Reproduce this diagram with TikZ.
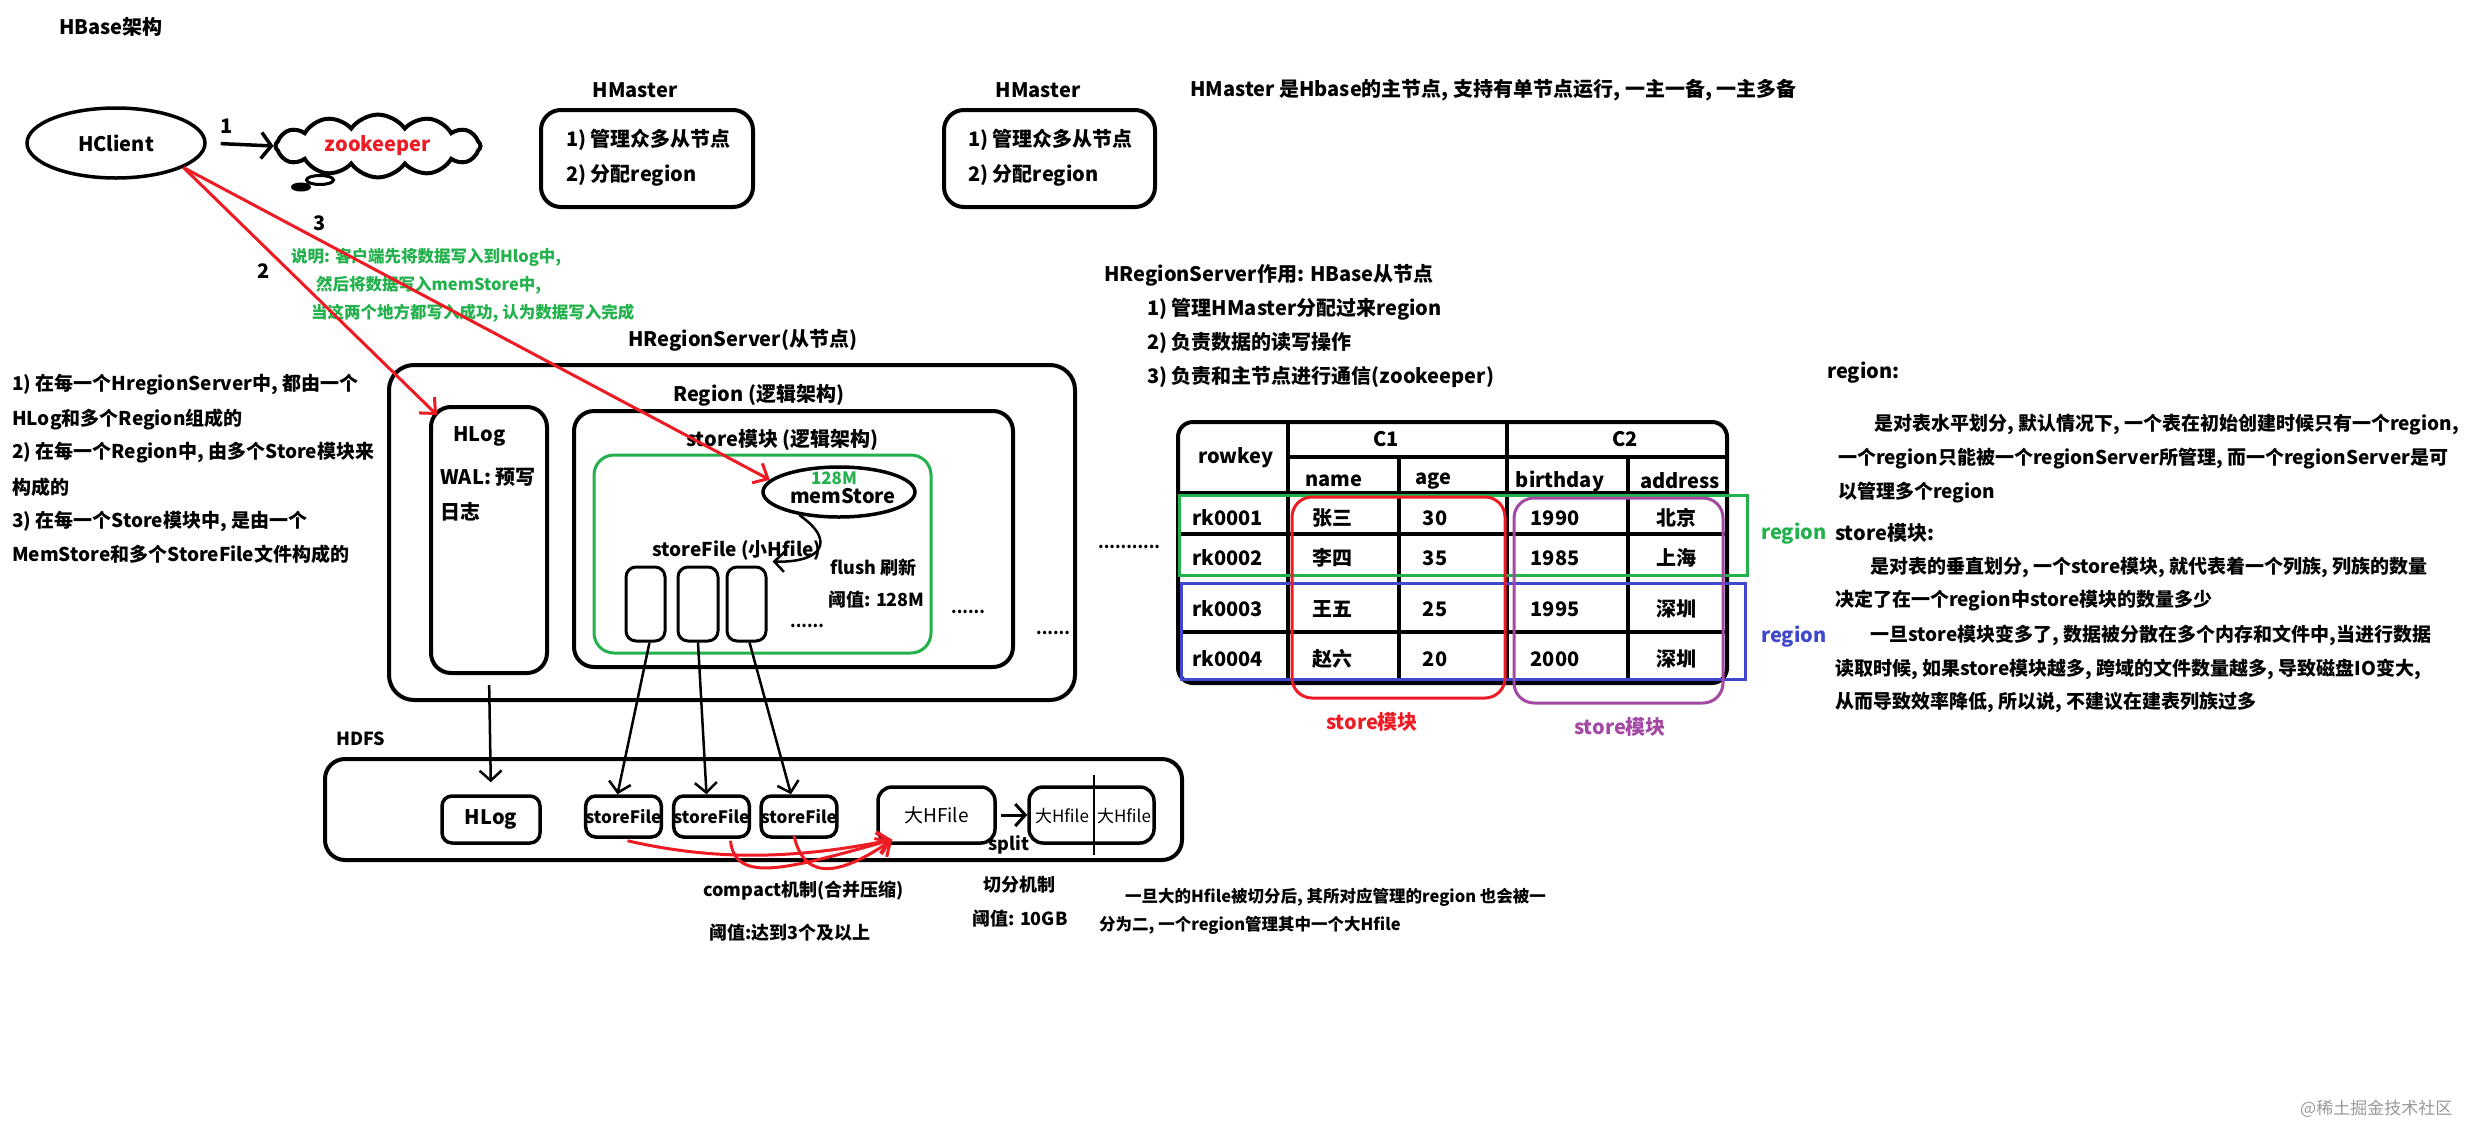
\documentclass[tikz,border=0pt]{standalone}
\usepackage{fontspec}
\setmainfont{Noto Sans CJK SC}
\usetikzlibrary{arrows.meta,shapes.geometric,shapes.symbols,calc}
\definecolor{pgreen}{RGB}{34,177,76}
\definecolor{pred}{RGB}{237,28,36}
\definecolor{pblue}{RGB}{63,72,204}
\definecolor{ppurple}{RGB}{163,73,164}
\newcommand\fsz[1]{\fontsize{#1}{#1}\selectfont}
\begin{document}
\begin{tikzpicture}[x=1pt,y=-1pt,
  every node/.style={font=\bfseries\fsz{20},inner sep=0pt},
  txt/.style={anchor=west},
  note/.style={anchor=west,text=pgreen,font=\bfseries\fsz{16.5}},
  box/.style={draw,line width=4pt,rounded corners=20pt},
  sbox/.style={draw,line width=3pt,rounded corners=10pt},
  arr/.style={line width=2.5pt,-{Straight Barb[length=10pt,width=22pt]}},
  redarr/.style={draw=pred,line width=3pt,-{Straight Barb[length=12pt,width=22pt]}},
  dots/.style={font=\bfseries\fsz{16},anchor=west},
  tline/.style={line width=3.5pt},
  cell/.style={font=\bfseries\fsz{20}},
  rtxt/.style={anchor=west,font=\bfseries\fsz{19}}
]
\useasboundingbox (0,0) rectangle (2465,1125);

% title
\node[txt] (title) at (59,27) {HBase架构};

% client and zookeeper
\node[ellipse,draw,line width=3.5pt,minimum width=178pt,minimum height=70pt] (hclient) at (116,143) {HClient};
\node[cloud,draw,line width=4pt,cloud puffs=12,cloud puff arc=110,aspect=3.4,minimum width=205pt,minimum height=62pt] (zk) at (378,146) {\textcolor{pred}{zookeeper}};
\node[ellipse,draw,line width=3pt,minimum width=27pt,minimum height=9pt] (bub1) at (320,180) {};
\node[ellipse,draw,fill,line width=2pt,minimum width=18pt,minimum height=7pt] (bub2) at (301,187) {};
\draw[line width=3.5pt,-{Straight Barb[length=10pt,width=26pt]},shorten <=14pt] (hclient.east) -- (zk.west);
\node (l1) at (227,126) {1};
\node (l2) at (264,271) {2};
\node (l3) at (320,223) {3};

% HMasters
\node (hm1t) at (635,90) {HMaster};
\node[box,minimum width=212pt,minimum height=97pt] (hm1) at (647,158.5) {};
\node[txt] (hm1a) at (566,140) {1) 管理众多从节点};
\node[txt] (hm1b) at (566,175) {2) 分配region};
\node (hm2t) at (1038,90) {HMaster};
\node[box,minimum width=211pt,minimum height=97pt] (hm2) at (1049.5,158.5) {};
\node[txt] (hm2a) at (968,140) {1) 管理众多从节点};
\node[txt] (hm2b) at (968,175) {2) 分配region};
\node[txt] (hmnote) at (1190,90) {HMaster 是Hbase的主节点, 支持有单节点运行, 一主一备, 一主多备};

% green note
\node[note] (n1) at (291,257) {说明: 客户端先将数据写入到Hlog中,};
\node[note] (n2) at (316,285) {然后将数据写入memStore中,};
\node[note] (n3) at (311,313) {当这两个地方都写入成功, 认为数据写入完成};

% left notes
\node[rtxt] (ln1) at (12,385) {1) 在每一个HregionServer中, 都由一个};
\node[rtxt] (ln2) at (12,419) {HLog和多个Region组成的};
\node[rtxt] (ln3) at (12,453) {2) 在每一个Region中, 由多个Store模块来};
\node[rtxt] (ln4) at (12,487) {构成的};
\node[rtxt] (ln5) at (12,521) {3) 在每一个Store模块中, 是由一个};
\node[rtxt] (ln6) at (12,554) {MemStore和多个StoreFile文件构成的};

% HRegionServer
\node[txt] (rst) at (628,340) {HRegionServer(从节点)};
\node[box,minimum width=686pt,minimum height=335pt,rounded corners=25pt] (rs) at (732,532.5) {};
\node[box,minimum width=116pt,minimum height=266pt] (hlog) at (489,540) {};
\node[txt] (hlogt) at (453,436) {HLog};
\node[txt] (wal) at (440,477) {WAL: 预写};
\node[txt] (wal2) at (440,512) {日志};
\node[txt] (regt) at (673,395) {Region (逻辑架构)};
\node[box,minimum width=439pt,minimum height=256pt] (region) at (793.5,539) {};
\node[txt] (stt) at (686,440) {store模块 (逻辑架构)};
\node[draw=pgreen,line width=3pt,rounded corners=20pt,minimum width=337pt,minimum height=198pt] (store) at (762.5,554) {};
\node[ellipse,draw,line width=3.5pt,minimum width=152pt,minimum height=50pt] (memstore) at (839,492) {};
\node[text=pgreen,font=\bfseries\fsz{17}] (m128) at (834,478) {128M};
\node (memt) at (843,496) {memStore};
\node[txt,font=\bfseries\fsz{19}] (sft) at (652,550) {storeFile (小Hfile)};
\node[sbox,minimum width=39pt,minimum height=74pt] (sfa) at (645.5,604) {};
\node[sbox,minimum width=40pt,minimum height=74pt] (sfb) at (698,604) {};
\node[sbox,minimum width=39pt,minimum height=74pt] (sfc) at (746.5,604) {};
\node[txt,font=\bfseries\fsz{18}] (flush) at (830,568) {flush 刷新};
\node[txt,font=\bfseries\fsz{18}] (fth) at (828,600) {阈值: 128M};
\node[dots] (d1) at (790,626) {......};
\node[dots] (d2) at (951,612) {......};
\node[dots] (d3) at (1036,633) {......};
\draw[line width=2.5pt,-{Straight Barb[length=10pt,width=20pt]}] (memstore.-150) .. controls (838,542) and (820,563) .. ($(sfc.north east)+(5,-4)$);

% red write arrows
\draw[redarr] (hclient.-20) -- ($(hlog.north west)+(8,10)$);
\draw[redarr] (hclient.-20) -- (memstore.170);

% HDFS
\node[txt,font=\bfseries\fsz{18}] (hdfst) at (336,739) {HDFS};
\node[box,minimum width=857pt,minimum height=101pt] (hdfs) at (753.5,809.5) {};
\node[sbox,line width=3.5pt,minimum width=98pt,minimum height=47pt] (hhlog) at (491,819.5) {HLog};
\node[sbox,line width=3.5pt,minimum width=73pt,minimum height=41pt,font=\bfseries\fsz{17}] (hsf1) at (623.5,816.5) {storeFile};
\node[sbox,line width=3.5pt,minimum width=73pt,minimum height=41pt,font=\bfseries\fsz{17}] (hsf2) at (711.5,816.5) {storeFile};
\node[sbox,line width=3.5pt,minimum width=74pt,minimum height=41pt,font=\bfseries\fsz{17}] (hsf3) at (799,816.5) {storeFile};
\node[sbox,line width=3.5pt,rounded corners=14pt,minimum width=117pt,minimum height=56pt,font=\mdseries\fsz{19}] (bigh) at (936.5,815) {大HFile};
\node[sbox,line width=3.5pt,rounded corners=14pt,minimum width=125pt,minimum height=56pt] (splitb) at (1091.5,815) {};
\node[font=\mdseries\fsz{17}] (sp1) at (1062,816) {大Hfile};
\node[font=\mdseries\fsz{17}] (sp2) at (1124,816) {大Hfile};
\coordinate (cutT) at (1094,775);
\coordinate (cutB) at (1094,855);
\draw[line width=2.5pt] (cutT) -- (cutB);
\draw[arr,line width=3pt,shorten <=4pt] (bigh.east) -- (splitb.west);
\node[font=\bfseries\fsz{18}] (splitl) at (1009,845) {split};

\draw[arr,shorten <=10pt,shorten >=12pt] (hlog.south) -- (hhlog.north);
\draw[arr] ($(sfa.south)+(4,0)$) -- ($(hsf1.north)+(-6,0)$);
\draw[arr] (sfb.south) -- ($(hsf2.north)+(-5,0)$);
\draw[arr] ($(sfc.south)+(3,0)$) -- ($(hsf3.north)+(-8,0)$);

% compact
\coordinate (cend) at ($(bigh.south west)+(16,-5)$);
\draw[redarr] ($(hsf1.south)+(4,2)$) .. controls (720,862) and (800,858) .. (cend);
\draw[redarr] ($(hsf2.south)+(19,2)$) .. controls (735,885) and (790,868) .. (cend);
\draw[redarr] ($(hsf3.south)+(-5,-3)$) .. controls (805,885) and (845,872) .. (cend);
\node[txt,font=\bfseries\fsz{18}] (cmp) at (703,891) {compact机制(合并压缩)};
\node[txt,font=\bfseries\fsz{18}] (cmp2) at (709,933) {阈值:达到3个及以上};
\node[txt,font=\bfseries\fsz{18}] (cut1) at (983,885) {切分机制};
\node[txt,font=\bfseries\fsz{18}] (cut2) at (972,919) {阈值: 10GB};
\node[txt,font=\bfseries\fsz{16.5}] (bn1) at (1125,897) {一旦大的Hfile被切分后, 其所对应管理的region 也会被一};
\node[txt,font=\bfseries\fsz{16.5}] (bn2) at (1099,925) {分为二, 一个region管理其中一个大Hfile};

% HRegionServer role
\node[txt] (rr0) at (1104,275) {HRegionServer作用: HBase从节点};
\node[txt] (rr1) at (1147,309) {1) 管理HMaster分配过来region};
\node[txt] (rr2) at (1147,343) {2) 负责数据的读写操作};
\node[txt] (rr3) at (1147,377) {3) 负责和主节点进行通信(zookeeper)};
\node[dots] (d4) at (1098,547) {...........};

% table
\node[draw,line width=4pt,rounded corners=15pt,minimum width=549pt,minimum height=261pt] (tbl) at (1452.5,552.5) {};
\draw[tline] (1288,422) -- (1288,683);
\draw[tline] (1507,422) -- (1507,683);
\draw[tline] (1399,457) -- (1399,683);
\draw[tline] (1628,457) -- (1628,683);
\draw[tline] (1288,457) -- (1727,457);
\draw[tline] (1178,493) -- (1727,493);
\draw[tline] (1178,534) -- (1727,534);
\draw[tline] (1178,632) -- (1727,632);
\node[cell] (h0) at (1236,458) {rowkey};
\node[cell] (h1) at (1386,439) {C1};
\node[cell] (h2) at (1625,439) {C2};
\node[cell] (h3) at (1334,481) {name};
\node[cell] (h4) at (1433,481) {age};
\node[cell] (h5) at (1560,481) {birthday};
\node[cell] (h6) at (1680,481) {address};
\node[cell,anchor=west] (r1a) at (1192,518) {rk0001};
\node[cell] (r1b) at (1332,518) {张三};
\node[cell] (r1c) at (1435,518) {30};
\node[cell] (r1d) at (1555,518) {1990};
\node[cell] (r1e) at (1676,518) {北京};
\node[cell,anchor=west] (r2a) at (1192,558) {rk0002};
\node[cell] (r2b) at (1332,558) {李四};
\node[cell] (r2c) at (1435,558) {35};
\node[cell] (r2d) at (1555,558) {1985};
\node[cell] (r2e) at (1676,558) {上海};
\node[cell,anchor=west] (r3a) at (1192,609) {rk0003};
\node[cell] (r3b) at (1332,609) {王五};
\node[cell] (r3c) at (1435,609) {25};
\node[cell] (r3d) at (1555,609) {1995};
\node[cell] (r3e) at (1676,609) {深圳};
\node[cell,anchor=west] (r4a) at (1192,659) {rk0004};
\node[cell] (r4b) at (1332,659) {赵六};
\node[cell] (r4c) at (1435,659) {20};
\node[cell] (r4d) at (1555,659) {2000};
\node[cell] (r4e) at (1676,659) {深圳};
\node[draw=pgreen,line width=3pt,minimum width=568pt,minimum height=80pt] (regg) at (1463,535) {};
\node[draw=pblue,line width=3pt,minimum width=564pt,minimum height=96pt] (regb) at (1463,631) {};
\node[draw=pred,line width=3pt,rounded corners=20pt,minimum width=213pt,minimum height=201pt] (stred) at (1398.5,597.5) {};
\node[draw=ppurple,line width=3pt,rounded corners=20pt,minimum width=209pt,minimum height=205pt] (stpur) at (1618.5,600.5) {};
\node[txt,text=pgreen] (rgl) at (1761,534) {region};
\node[txt,text=pblue] (rbl) at (1761,637) {region};
\node[text=pred] (srl) at (1372,722) {store模块};
\node[text=ppurple] (spl) at (1620,727) {store模块};

% right notes
\node[txt] (rn0) at (1827,373) {region:};
\node[rtxt] (rn1) at (1874,425) {是对表水平划分, 默认情况下, 一个表在初始创建时候只有一个region,};
\node[rtxt] (rn2) at (1838,459) {一个region只能被一个regionServer所管理, 而一个regionServer是可};
\node[rtxt] (rn3) at (1838,493) {以管理多个region};
\node[txt] (rn4) at (1835,533) {store模块:};
\node[rtxt] (rn5) at (1870,567) {是对表的垂直划分, 一个store模块, 就代表着一个列族, 列族的数量};
\node[rtxt] (rn6) at (1835,601) {决定了在一个region中store模块的数量多少};
\node[rtxt] (rn7) at (1870,635) {一旦store模块变多了, 数据被分散在多个内存和文件中,当进行数据};
\node[rtxt] (rn8) at (1835,669) {读取时候, 如果store模块越多, 跨域的文件数量越多, 导致磁盘IO变大,};
\node[rtxt] (rn9) at (1835,702) {从而导致效率降低, 所以说, 不建议在建表列族过多};

% watermark
\node[txt,text=black!40,font=\mdseries\fsz{17}] (wm) at (2300,1109) {@稀土掘金技术社区};
\end{tikzpicture}
\end{document}
